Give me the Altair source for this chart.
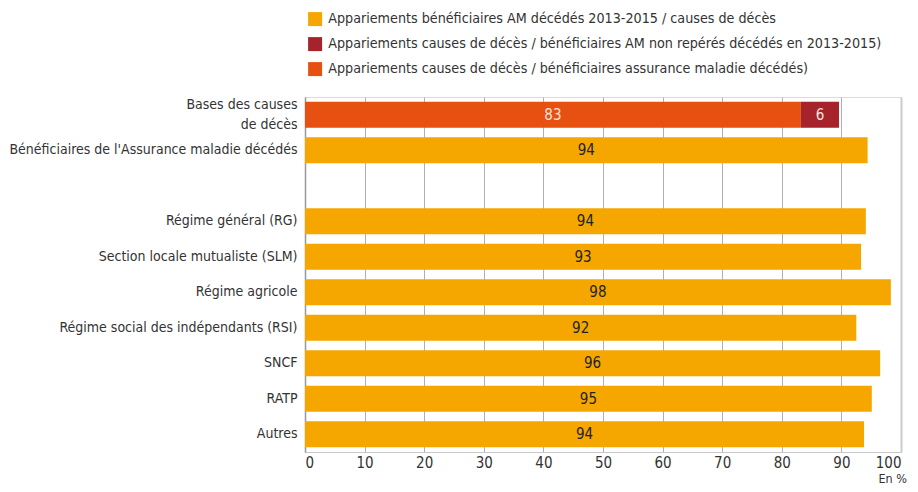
import altair as alt
import pandas as pd

# ---- data ----
categories = [
    "Bases des causes|de décès",
    "Bénéficiaires de l'Assurance maladie décédés",
    " ",
    "Régime général (RG)",
    "Section locale mutualiste (SLM)",
    "Régime agricole",
    "Régime social des indépendants (RSI)",
    "SNCF",
    "RATP",
    "Autres",
]
series_names = [
    "Appariements bénéficiaires AM décédés 2013-2015 / causes de décès",
    "Appariements causes de décès / bénéficiaires AM non repérés décédés en 2013-2015)",
    "Appariements causes de décès / bénéficiaires assurance maladie décédés)",
]
series_colors = ["#F5A700", "#A6232B", "#E65112"]

regime_categories = [categories[1]] + categories[3:]
regime_values = [94.4, 94.1, 93.3, 98.3, 92.5, 96.5, 95.1, 93.8]
regime_labels = ["94", "94", "93", "98", "92", "96", "95", "94"]

bases_category = categories[0]
bases_values = [83.2, 6.4]          # series 3 then series 2
bases_labels = ["83", "6"]
bases_series = [series_names[2], series_names[1]]

# ---- table ----
rows = []
for c, v, l in zip(regime_categories, regime_values, regime_labels):
    rows.append(dict(cat=c, series=series_names[0], start=0.0, end=v, lab=l, tc="#222222"))
acc = 0.0
for s, v, l in zip(bases_series, bases_values, bases_labels):
    rows.append(dict(cat=bases_category, series=s, start=acc, end=acc + v, lab=l, tc="#FBE3DA"))
    acc += v
df = pd.DataFrame(rows)

FONT = "DejaVu Sans Condensed"
TXT = "#333333"

yscale = alt.Scale(domain=categories, paddingInner=0.27, paddingOuter=0.135)

base = alt.Chart(df)

bars = base.mark_bar().encode(
    y=alt.Y("cat:N", scale=yscale, sort=categories,
            axis=alt.Axis(title=None, labelExpr="split(datum.label, '|')",
                          labelFontSize=14, labelColor=TXT, labelFont=FONT,
                          labelLineHeight=20, labelPadding=8, ticks=False,
                          labelOffset=alt.condition("indexof(datum.value, '|') >= 0",
                                                    alt.value(-10), alt.value(0)),
                          domainColor="#999999", domainWidth=1.5, labelLimit=400)),
    x=alt.X("start:Q", scale=alt.Scale(domain=[0, 100], nice=False),
            axis=alt.Axis(values=list(range(0, 101, 10)), title="En %",
                          titleFont=FONT, titleFontSize=12.5, titleFontWeight="normal",
                          titleColor=TXT, titleAnchor="start", titleAlign="left",
                          titleBaseline="top", titleX=573, titleY=20,
                          labelFont=FONT, labelFontSize=15, labelColor=TXT,
                          labelPadding=3, ticks=False, domainColor="#c8c8c8",
                          grid=True,
                          gridColor=alt.condition("datum.value == 100", alt.value("#cccccc"), alt.value("#b0b0b0")),
                          gridWidth=alt.condition("datum.value == 100", alt.value(2), alt.value(1)))),
    x2="end:Q",
    color=alt.Color("series:N", scale=alt.Scale(domain=series_names, range=series_colors),
                    legend=alt.Legend(title=None, orient="none", legendX=3, legendY=-85,
                                      symbolType="square", symbolSize=196, symbolStrokeWidth=0,
                                      symbolOpacity=1, labelFont=FONT, labelFontSize=14.2,
                                      labelColor=TXT, rowPadding=10, labelLimit=600,
                                      labelOffset=6)),
)

texts = base.mark_text(font=FONT, fontSize=15, align="center", baseline="middle").encode(
    y=alt.Y("cat:N", scale=yscale, sort=categories),
    x=alt.X("mid:Q"),
    text="lab:N",
    color=alt.Color("tc:N", scale=None),
).transform_calculate(mid="(datum.start + datum.end) / 2")

chart = alt.layer(bars, texts).resolve_scale(color="independent").properties(
    width=596, height=355,
    autosize=alt.AutoSizeParams(type="none"),
    padding={"left": 297, "top": 89, "right": 9, "bottom": 32},
).configure_view(stroke=None).configure(background="white")

chart.save("out.html", embed_options={"renderer": "svg", "actions": False})
